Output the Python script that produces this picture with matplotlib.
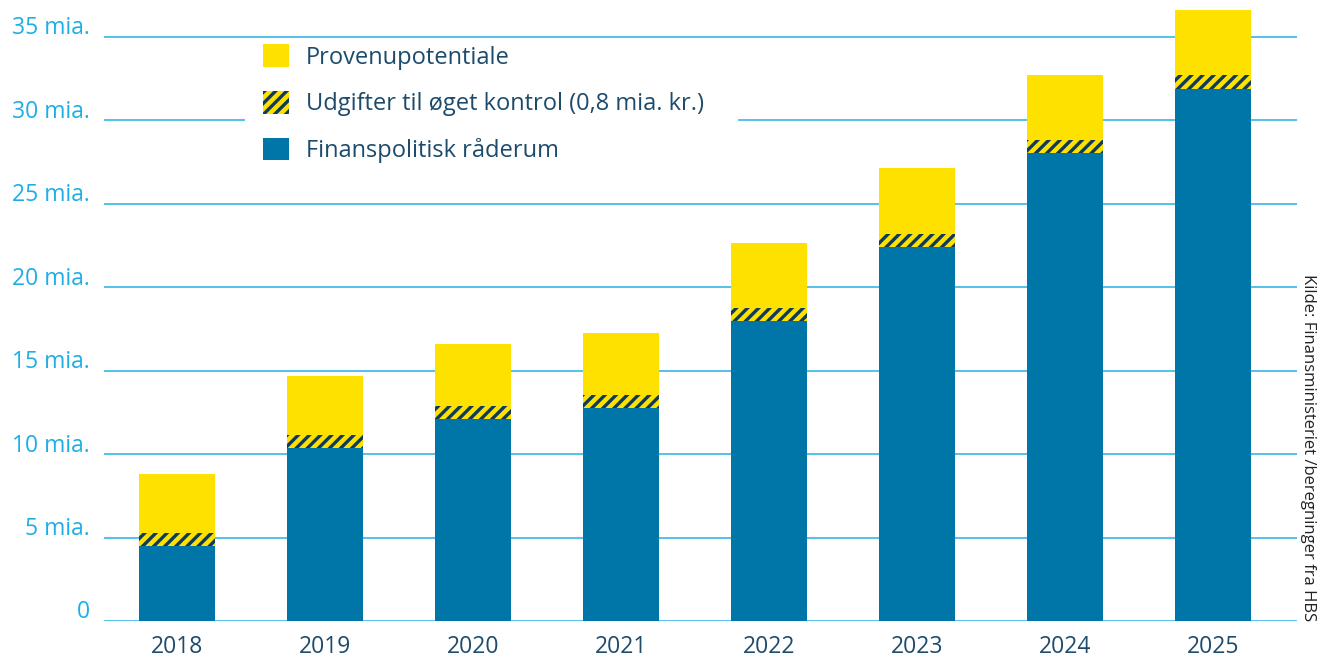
import matplotlib.pyplot as plt
from matplotlib.patches import Patch, Rectangle
import numpy as np

plt.rcParams['font.family'] = ['Open Sans', 'DejaVu Sans']
plt.rcParams['hatch.linewidth'] = 2.4

# data (mia. kr.)
years = ['2018', '2019', '2020', '2021', '2022', '2023', '2024', '2025']
raaderum = [4.5, 10.35, 12.1, 12.75, 17.95, 22.4, 28.05, 31.9]
kontrol = [0.8, 0.8, 0.8, 0.8, 0.8, 0.8, 0.8, 0.8]
proveny = [3.5, 3.55, 3.7, 3.7, 3.9, 3.95, 3.9, 3.9]
ytick_vals = [0, 5, 10, 15, 20, 25, 30, 35]
ytick_labels = ['0', '5 mia.', '10 mia.', '15 mia.', '20 mia.', '25 mia.', '30 mia.', '35 mia.']

blue = '#0076a8'
yellow = '#ffe100'
navy = '#0e3b5c'
grid_c = '#38b6e8'
lab_c = '#1eaee6'
txt_c = '#1c4b6c'

W, H = 1319, 657
fig = plt.figure(figsize=(W / 100, H / 100), dpi=100)
ax = fig.add_axes([104 / W, (H - 621) / H, (1297 - 104) / W, 621 / H])

x = np.arange(len(years))
bw = 0.514
bottom2 = np.array(raaderum) + np.array(kontrol)

for v in ytick_vals:
    ax.axhline(v, color=grid_c, lw=1.2, zorder=0)

ax.bar(x, raaderum, bw, color=blue, lw=0, zorder=3)
ax.bar(x, kontrol, bw, bottom=raaderum, facecolor=yellow, edgecolor=navy,
       hatch='///', lw=0, zorder=3)
ax.bar(x, proveny, bw, bottom=bottom2, color=yellow, lw=0, zorder=3)

ax.set_xlim(-0.493, 7.568)
ax.set_ylim(0, 621 / 16.686)
for s in ax.spines.values():
    s.set_visible(False)
ax.set_yticks([])
ax.set_xticks(x)
ax.set_xticklabels(years, fontsize=16.5, color=txt_c)
ax.tick_params(axis='x', length=0, pad=10)

for v, l in zip(ytick_vals, ytick_labels):
    ax.text(-0.0117, v + 0.15, l, transform=ax.get_yaxis_transform(),
            ha='right', va='baseline', fontsize=16.5, color=lab_c)

# white box behind legend
fig.patches.append(Rectangle((245 / W, (H - 175) / H), (738 - 245) / W, 135 / H,
                             transform=fig.transFigure, facecolor='white',
                             edgecolor='none', zorder=1))

handles = [Patch(facecolor=yellow, lw=0),
           Patch(facecolor=yellow, edgecolor=navy, hatch='///', lw=0),
           Patch(facecolor=blue, lw=0)]
labels = ['Provenupotentiale', 'Udgifter til øget kontrol (0,8 mia. kr.)',
          'Finanspolitisk råderum']
leg = fig.legend(handles, labels, loc='upper left',
                 bbox_to_anchor=(263 / W, (H - 44) / H), frameon=False,
                 fontsize=17, handlelength=1.12, handleheight=1.12,
                 handletextpad=0.68, labelspacing=0.9, borderpad=0,
                 borderaxespad=0)
for t in leg.get_texts():
    t.set_color(txt_c)
leg.set_zorder(5)

fig.text(1308 / W, (H - 621) / H, 'Kilde: Finansministeriet /beregninger fra HBS',
         rotation=270, ha='center', va='bottom', fontsize=12, color='#222222')

fig.savefig('out.png', dpi=100)
